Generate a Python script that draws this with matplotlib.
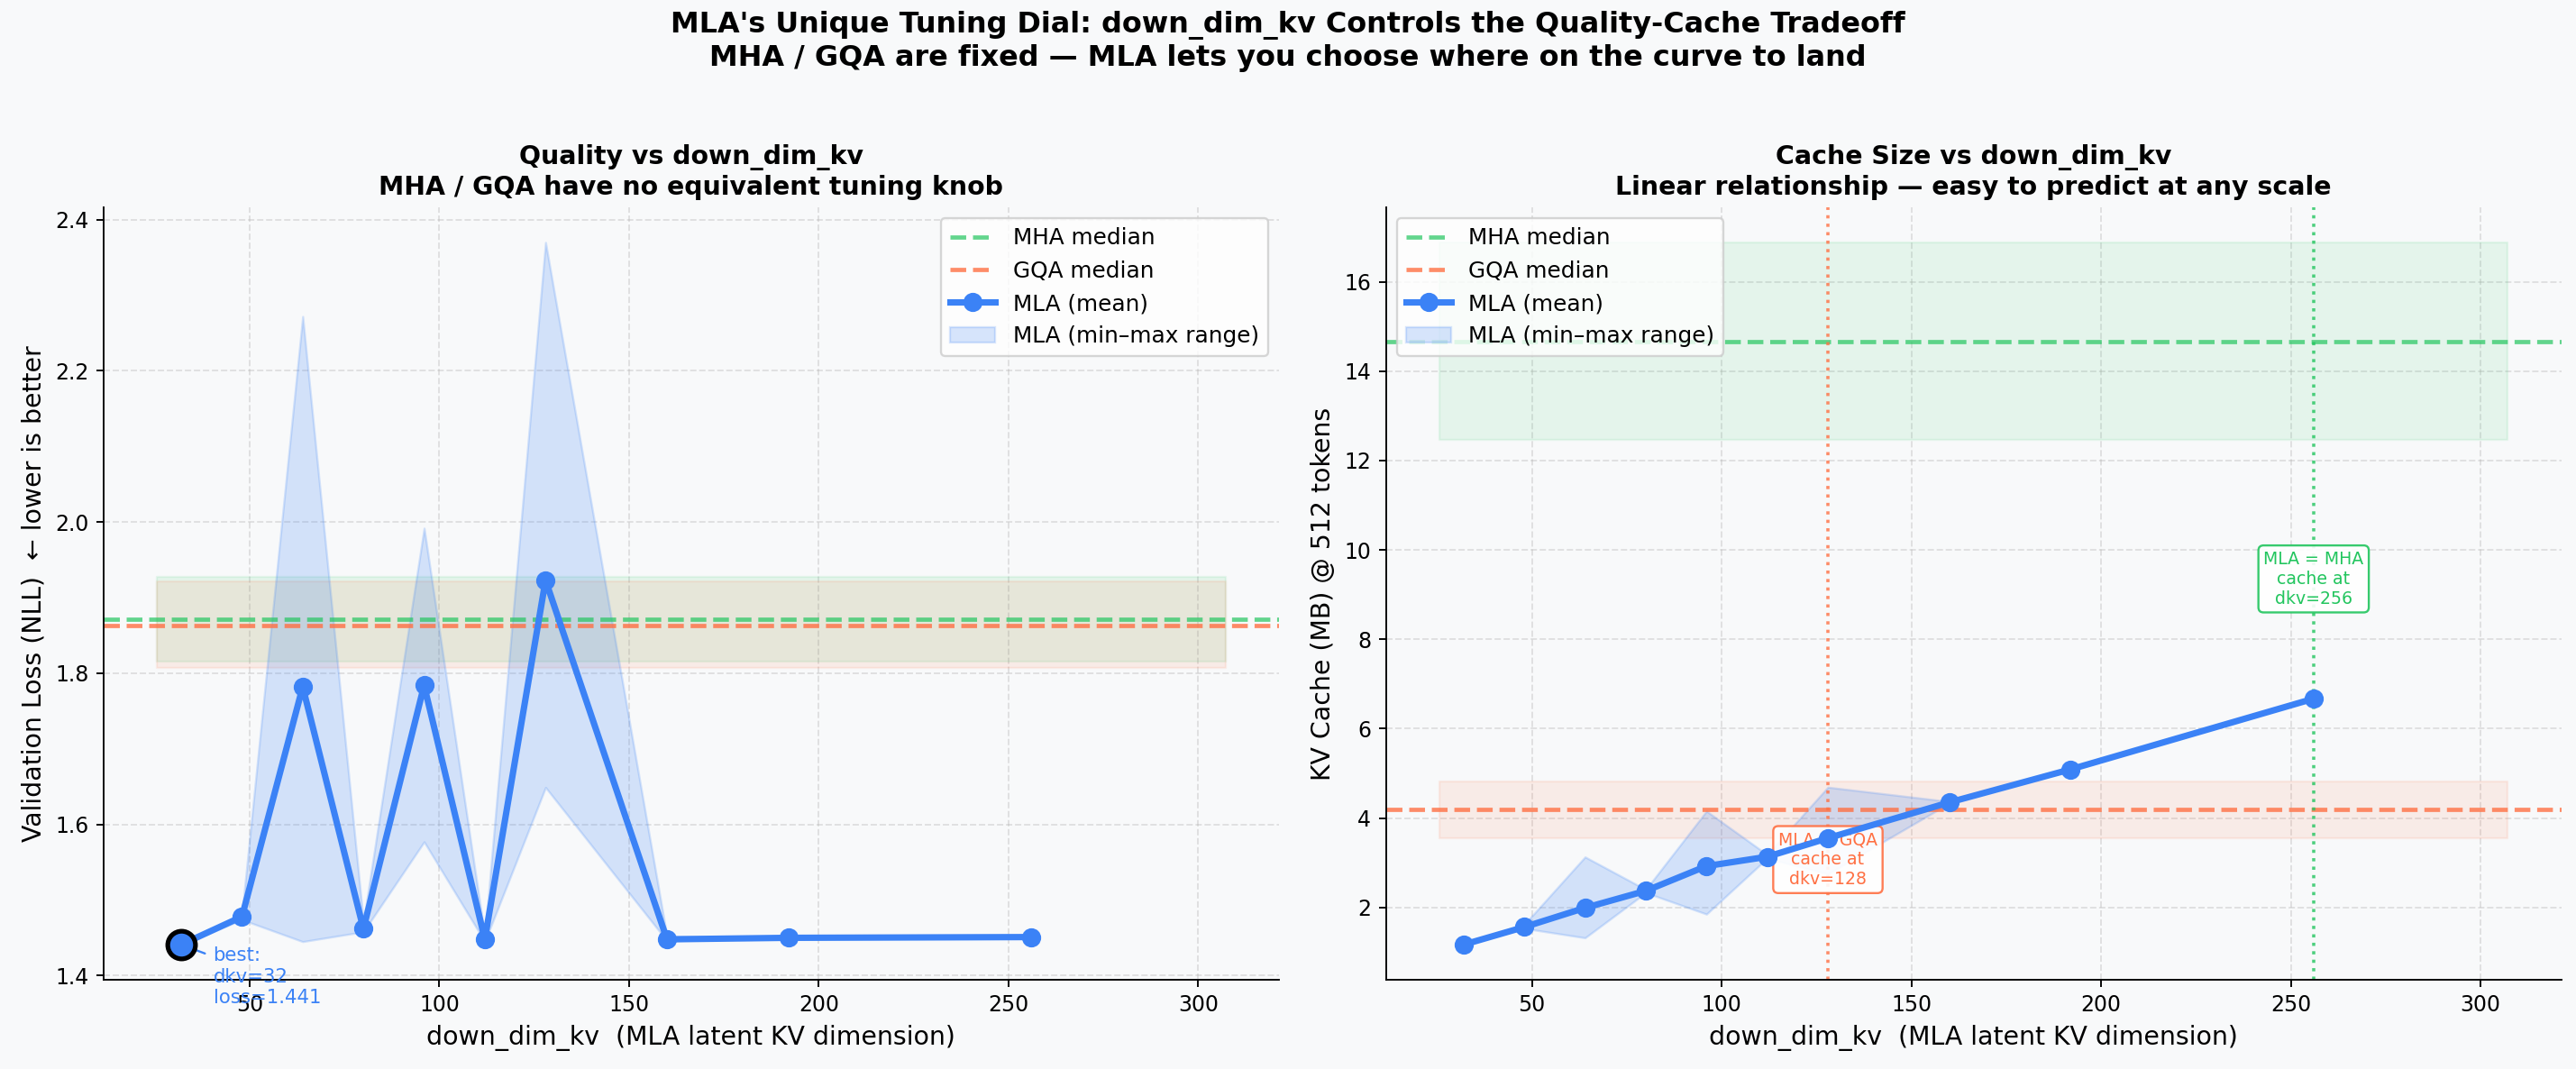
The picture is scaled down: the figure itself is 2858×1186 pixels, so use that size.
import numpy as np
import matplotlib.pyplot as plt

# down_dim_kv sweep (MLA)
dims = np.array([32, 48, 64, 80, 96, 112, 128, 160, 192, 256])
loss_mean = np.array([1.441, 1.478, 1.782, 1.462, 1.784, 1.448, 1.923, 1.448, 1.450, 1.451])
loss_min = np.array([1.441, 1.474, 1.445, 1.458, 1.577, 1.445, 1.649, 1.446, 1.450, 1.451])
loss_max = np.array([1.441, 1.482, 2.272, 1.471, 1.992, 1.452, 2.370, 1.452, 1.450, 1.451])

cache_mean = np.array([1.167, 1.561, 1.99, 2.37, 2.925, 3.133, 3.55, 4.35, 5.09, 6.67])
cache_min = np.array([1.167, 1.53, 1.32, 2.33, 1.85, 3.10, 2.75, 4.33, 5.09, 6.67])
cache_max = np.array([1.167, 1.62, 3.13, 2.40, 4.155, 3.18, 4.69, 4.37, 5.09, 6.67])

# baselines: median, min, max
mha_loss = [1.872, 1.815, 1.928]
gqa_loss = [1.863, 1.807, 1.921]
mha_cache = [14.66, 12.46, 16.88]
gqa_cache = [4.185, 3.54, 4.82]
gqa_match_dim = 128
mha_match_dim = 256

BG = '#f8f9fa'
C_MHA = '#22c55e'
C_GQA = '#ff7043'
C_MLA = '#3b82f6'

DPI = 170
fig, (ax1, ax2) = plt.subplots(1, 2, figsize=(2858 / DPI, 1186 / DPI), facecolor=BG)
plt.subplots_adjust(left=0.0402, right=0.9943, bottom=0.0835, top=0.8061, wspace=0.091)

band_x = [dims.min() * 0.8, dims.max() * 1.2]


def draw_panel(ax, mean, lo, hi, mha, gqa):
    ax.set_facecolor(BG)
    ax.axhline(mha[0], color=C_MHA, ls='--', lw=2, alpha=0.7, label='MHA median')
    ax.fill_between(band_x, mha[1], mha[2], color=C_MHA, alpha=0.09)
    ax.axhline(gqa[0], color=C_GQA, ls='--', lw=2, alpha=0.8, label='GQA median')
    ax.fill_between(band_x, gqa[1], gqa[2], color=C_GQA, alpha=0.1)
    ax.plot(dims, mean, 'o-', color=C_MLA, lw=3, ms=8, zorder=5, label='MLA (mean)')
    ax.fill_between(dims, lo, hi, color=C_MLA, alpha=0.2, label='MLA (min\u2013max range)')
    ax.grid(True, ls='--', alpha=0.35)
    ax.set_axisbelow(True)
    ax.spines['top'].set_visible(False)
    ax.spines['right'].set_visible(False)
    ax.tick_params(labelsize=10)
    ax.set_xlabel('down_dim_kv  (MLA latent KV dimension)', fontsize=12)


# left: quality
draw_panel(ax1, loss_mean, loss_min, loss_max, mha_loss, gqa_loss)
ax1.set_ylabel('Validation Loss (NLL)  \u2190 lower is better', fontsize=12)
ax1.set_title('Quality vs down_dim_kv\nMHA / GQA have no equivalent tuning knob',
              fontsize=12, fontweight='bold')
best = int(np.argmin(loss_mean))
ax1.plot(dims[best], loss_mean[best], 'o', color=C_MLA, ms=13, mec='black', mew=2.2, zorder=7)
ax1.annotate(f'best:\ndkv={dims[best]}\nloss={loss_mean[best]:.3f}',
             xy=(dims[best], loss_mean[best]), xytext=(15, -1), textcoords='offset points',
             fontsize=9, color=C_MLA, va='top',
             arrowprops=dict(arrowstyle='->', color=C_MLA, lw=1))
ax1.legend(loc='upper right', fontsize=10.5)

# right: cache size
draw_panel(ax2, cache_mean, cache_min, cache_max, mha_cache, gqa_cache)
ax2.axvline(gqa_match_dim, color=C_GQA, ls=':', lw=1.5, alpha=0.8)
ax2.axvline(mha_match_dim, color=C_MHA, ls=':', lw=1.5, alpha=0.8)
ax2.text(gqa_match_dim, 3.07, f'MLA = GQA\ncache at\ndkv={gqa_match_dim}', ha='center', va='center',
         fontsize=8, color=C_GQA,
         bbox=dict(boxstyle='round,pad=0.3', facecolor='white', edgecolor=C_GQA, alpha=0.9))
ax2.text(mha_match_dim, 9.35, f'MLA = MHA\ncache at\ndkv={mha_match_dim}', ha='center', va='center',
         fontsize=8, color=C_MHA,
         bbox=dict(boxstyle='round,pad=0.3', facecolor='white', edgecolor=C_MHA, alpha=0.9))
ax2.set_ylabel('KV Cache (MB) @ 512 tokens', fontsize=12)
ax2.set_title('Cache Size vs down_dim_kv\nLinear relationship \u2014 easy to predict at any scale',
              fontsize=12, fontweight='bold')
ax2.legend(loc='upper left', fontsize=10.5)

fig.suptitle("MLA's Unique Tuning Dial: down_dim_kv Controls the Quality-Cache Tradeoff\n"
             "MHA / GQA are fixed \u2014 MLA lets you choose where on the curve to land",
             fontsize=13.5, fontweight='bold', y=0.99, va='top')

plt.savefig('out.png', dpi=DPI, facecolor=BG)
